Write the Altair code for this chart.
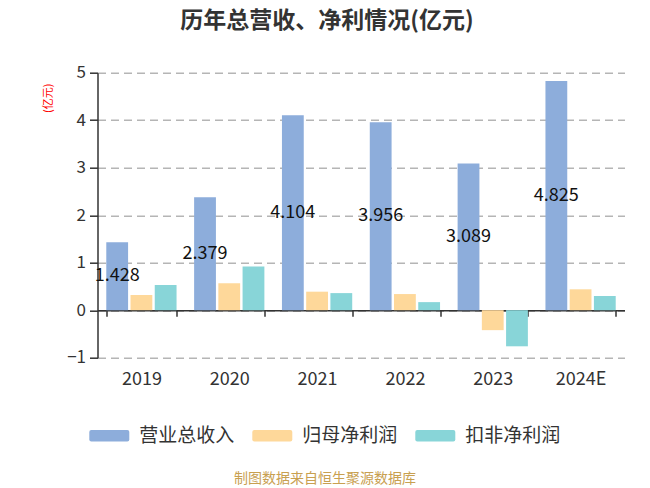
import altair as alt
import pandas as pd

years = ["2019", "2020", "2021", "2022", "2023", "2024E"]
series = ["营业总收入", "归母净利润", "扣非净利润"]
revenue = [1.428, 2.379, 4.104, 3.956, 3.089, 4.825]
net_profit = [0.32, 0.57, 0.39, 0.34, -0.42, 0.44]
deducted = [0.53, 0.92, 0.36, 0.17, -0.76, 0.30]
colors = ["#8DADDB", "#FED89A", "#88D5D8"]
y_ticks = [-1, 0, 1, 2, 3, 4, 5]

rows = []
for i, yr in enumerate(years):
    for s, vals in zip(series, [revenue, net_profit, deducted]):
        rows.append({"year": yr, "series": s, "value": vals[i]})
df = pd.DataFrame(rows)

W, H = 527, 285
FONT = "Noto Sans CJK SC"

legend_path = ("M-0.9,-0.2875 L0.9,-0.2875 Q1,-0.2875 1,-0.1875 L1,0.1875 "
               "Q1,0.2875 0.9,0.2875 L-0.9,0.2875 Q-1,0.2875 -1,0.1875 "
               "L-1,-0.1875 Q-1,-0.2875 -0.9,-0.2875 Z")

x_enc = alt.X(
    "year:N", sort=years,
    scale=alt.Scale(paddingInner=0.2, paddingOuter=0.1),
    axis=alt.Axis(
        title=None, labelAngle=0, labelFontSize=18, labelColor="#333333",
        domainColor="#333333", domainWidth=1.5, tickColor="#333333",
        tickWidth=1.5, tickSize=6, tickBand="extent", offset=-H / 6,
        labelPadding=54, grid=False,
    ),
)
xoff = alt.XOffset("series:N", sort=series,
                   scale=alt.Scale(domain=series, paddingInner=0.1, paddingOuter=0))
y_scale = alt.Scale(domain=[-1, 5], nice=False)

bars = alt.Chart(df).mark_bar().encode(
    x=x_enc,
    xOffset=xoff,
    y=alt.Y("value:Q", scale=y_scale, axis=alt.Axis(
        title=None, values=y_ticks, grid=True, gridDash=[8, 5],
        gridColor="#b5b5b5", gridWidth=1.5, domainColor="#333333",
        domainWidth=1.5, tickColor="#333333", tickWidth=1.5, tickSize=8,
        labelPadding=4, labelFontSize=17, labelColor="#333333",
    )),
    color=alt.Color("series:N", sort=series,
                    scale=alt.Scale(domain=series, range=colors),
                    legend=alt.Legend(
                        orient="none", legendX=-8.2, legendY=343,
                        direction="horizontal", columns=3, title=None,
                        symbolType=legend_path, symbolSize=1600,
                        symbolStrokeWidth=0, symbolOpacity=1,
                        labelFontSize=19, labelColor="#333333",
                        labelOffset=10, columnPadding=17, padding=0,
                        labelFont=FONT,
                    )),
)

labels = alt.Chart(df).transform_filter(
    alt.datum.series == series[0]
).transform_calculate(
    mid="datum.value / 2"
).mark_text(fontSize=18, color="#111111", align="center", baseline="middle").encode(
    x=alt.X("year:N", sort=years),
    xOffset=xoff,
    y=alt.Y("mid:Q", scale=y_scale),
    text=alt.Text("value:Q", format=".3f"),
)

y_title = alt.Chart(pd.DataFrame({"t": ["(亿元)"]})).mark_text(
    angle=270, color="#ff0000", fontSize=11, align="center", baseline="middle"
).encode(x=alt.value(-48.5), y=alt.value(25.5), text="t:N")

title = alt.Chart(pd.DataFrame({"t": ["历年总营收、净利情况(亿元)"]})).mark_text(
    fontSize=23, fontWeight="bold", color="#333333", align="center", baseline="middle"
).encode(x=alt.value(229.5), y=alt.value(-51.5), text="t:N")

footer = alt.Chart(pd.DataFrame({"t": ["制图数据来自恒生聚源数据库"]})).mark_text(
    fontSize=14, color="#C8A050", align="center", baseline="middle"
).encode(x=alt.value(227.5), y=alt.value(406.3), text="t:N")

chart = alt.layer(bars, labels, y_title, title, footer).properties(
    width=W, height=H,
    autosize=alt.AutoSizeParams(type="none"),
    padding={"left": 97.5, "top": 72.7, "right": 25.5, "bottom": 130.3},
).configure(font=FONT).configure_view(stroke=None)

chart.save("out.html", embed_options={"renderer": "svg", "actions": False})
